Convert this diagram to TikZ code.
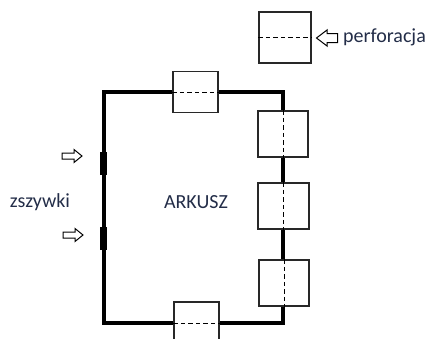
\documentclass[tikz,border=0pt]{standalone}
\usepackage{fontspec}
\setmainfont{Carlito}
\definecolor{txt}{RGB}{35,45,72}
\definecolor{boxc}{RGB}{40,40,40}
\begin{document}
\begin{tikzpicture}[x=1pt,y=-1pt,
  pbox/.style={draw=boxc,line width=1.4pt,fill=white,inner sep=0pt},
  perfline/.style={line width=0.9pt,dash pattern=on 4.5pt off 3pt,black},
  sheet/.style={line width=4pt,black},
  staple/.style={line width=7pt,black},
  lbl/.style={text=txt,font=\fontsize{20}{24}\selectfont,inner sep=0pt},
  smallarrow/.pic={\draw[line width=1pt,fill=white,line join=miter]
     (-10,-3) -- (2,-3) -- (2,-6.5) -- (10,0) -- (2,6.5) -- (2,3) -- (-10,3) -- cycle;},
  perfarrow/.pic={\draw[line width=1pt,fill=white,line join=miter]
     (10.5,-4.5) -- (0,-4.5) -- (0,-8) -- (-10.5,0) -- (0,8) -- (0,4.5) -- (10.5,4.5) -- cycle;}]
\useasboundingbox (0,0) rectangle (425,338);
\clip (0,0) rectangle (425,338);
% sheet
\draw[sheet] (104,92) rectangle (283,323);
% staples
\draw[staple] (103,152) -- (103,175);
\draw[staple] (103,227) -- (103,250);
% boxes
\node[pbox,minimum width=52pt,minimum height=51pt] (pb) at (285,37.5) {};
\draw[perfline] (pb.west) -- (pb.east);
\node[pbox,minimum width=45pt,minimum height=41pt] (tb) at (195.5,92) {};
\draw[perfline] (tb.west) -- (tb.east);
\node[pbox,minimum width=45pt,minimum height=42pt] (bb) at (196.5,323) {};
\draw[perfline] (bb.west) -- (bb.east);
\node[pbox,minimum width=50pt,minimum height=46pt] (r1) at (283,134) {};
\draw[perfline] (r1.north) -- (r1.south);
\node[pbox,minimum width=51pt,minimum height=46pt] (r2) at (283.5,206) {};
\draw[perfline] (r2.north) -- (r2.south);
\node[pbox,minimum width=50pt,minimum height=46pt] (r3) at (284,283) {};
\draw[perfline] (r3.north) -- (r3.south);
% arrows
\pic at (72,156) {smallarrow};
\pic at (73,235) {smallarrow};
\pic at (327,38) {perfarrow};
% labels
\node[lbl,anchor=west] (perf) at (343,37.5) {perforacja};
\node[lbl] (zs) at (40,202) {zszywki};
\node[lbl] (ark) at (196,202) {ARKUSZ};
\end{tikzpicture}
\end{document}
